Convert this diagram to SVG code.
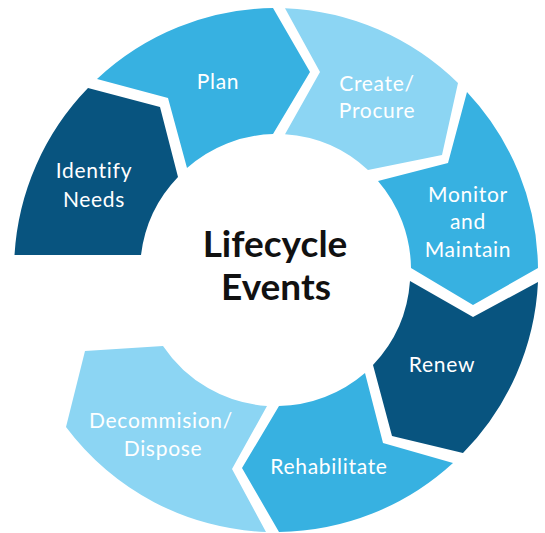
<svg xmlns="http://www.w3.org/2000/svg" width="545" height="533" viewBox="0 0 545 533">
  <style>
    .dark { fill: #08547f; }
    .mid { fill: #37b1e1; }
    .light { fill: #8cd5f3; }
    .label { font-family: Lato, "Open Sans", sans-serif; font-size: 21px; fill: #ffffff; text-anchor: middle; letter-spacing: 0.7px; }
    .title { font-family: Lato, "Open Sans", sans-serif; font-weight: bold; font-size: 37px; fill: #111111; text-anchor: middle; }
  </style>
  <rect width="545" height="533" fill="#ffffff"/>

  <!-- ring of chevron segments around centre (276,270), radii 136 / 262 -->
  <g id="identify-needs">
    <path class="dark" d="M 14.5 255 L 141 255 A 136 136 0 0 1 178 177 L 160 107 L 88 88 A 262 262 0 0 0 14.5 255 Z"/>
    <text class="label" x="94" y="178">Identify</text>
    <text class="label" x="94" y="207">Needs</text>
  </g>

  <g id="plan">
    <path class="mid" d="M 97 79 L 168 98 L 187 168 A 136 136 0 0 1 273 134 L 310 72 L 273 8 A 262 262 0 0 0 97 79 Z"/>
    <text class="label" x="218" y="89">Plan</text>
  </g>

  <g id="create-procure">
    <path class="light" d="M 285 8.2 L 320 72 L 285 134.3 A 136 136 0 0 1 368 170 L 442 155 L 458 83 A 262 262 0 0 0 285 8.2 Z"/>
    <text class="label" x="377" y="91">Create/</text>
    <text class="label" x="377" y="118">Procure</text>
  </g>

  <g id="monitor-maintain">
    <path class="mid" d="M 467 92 L 448 163 L 378 181 A 136 136 0 0 1 411 268 L 473 305 L 538 268 A 262 262 0 0 0 467 92 Z"/>
    <text class="label" x="468" y="202">Monitor</text>
    <text class="label" x="468" y="229">and</text>
    <text class="label" x="468" y="257">Maintain</text>
  </g>

  <g id="renew">
    <path class="dark" d="M 538 282 L 473 317 L 410 281 A 136 136 0 0 1 373 365 L 392 436 L 463 453 A 262 262 0 0 0 538 282 Z"/>
    <text class="label" x="442" y="372">Renew</text>
  </g>

  <g id="rehabilitate">
    <path class="mid" d="M 453 463 L 383 443 L 365 373 A 136 136 0 0 1 279 406 L 242 468 L 279 532 A 262 262 0 0 0 453 463 Z"/>
    <text class="label" x="329" y="474">Rehabilitate</text>
  </g>

  <g id="decommission-dispose">
    <path class="light" d="M 266 532 L 232 469 L 267 406 A 136 136 0 0 1 163 346 L 85 351 L 66 427 A 262 262 0 0 0 266 532 Z"/>
    <text class="label" x="161" y="428">Decommision/</text>
    <text class="label" x="163" y="456">Dispose</text>
  </g>

  <g id="connectors"></g>

  <g id="centre">
    <text class="title" x="275" y="257">Lifecycle</text>
    <text class="title" x="276" y="300">Events</text>
  </g>
</svg>
